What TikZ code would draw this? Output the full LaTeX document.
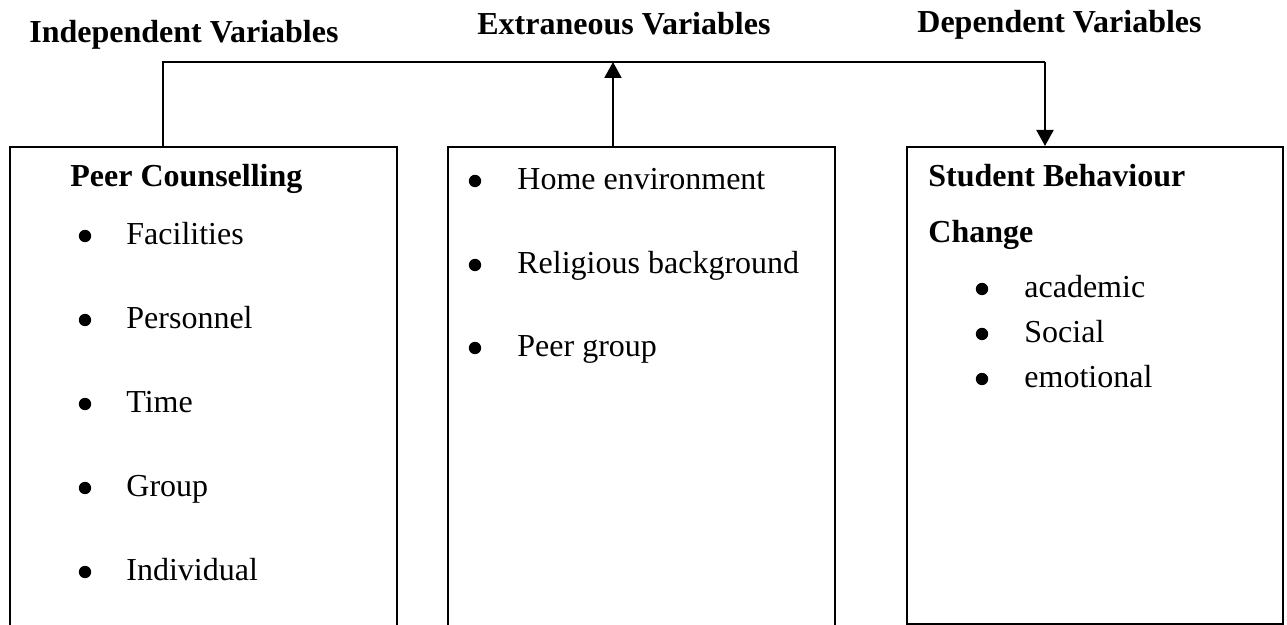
\documentclass[tikz,border=0pt]{standalone}
\usepackage{fontspec}
\setmainfont{Liberation Serif}
\usetikzlibrary{arrows.meta, positioning}

\begin{document}
\begin{tikzpicture}[
    x=0.5pt, y=-0.5pt,
    font=\fontsize{16}{19}\selectfont,
    box/.style={rectangle, draw, line width=1pt, inner sep=0pt},
    head/.style={font=\fontsize{16}{19}\selectfont\bfseries, inner sep=0pt, anchor=base west},
    item/.style={inner sep=0pt, anchor=base west},
    dot/.style={circle, fill, inner sep=0pt, minimum size=6.2pt},
    link/.style={line width=1pt},
    arrow/.style={line width=1pt, -{Triangle[length=8pt, width=8.5pt]}}
]
    \useasboundingbox (0,0) rectangle (1287,625);

    % Boxes (left and middle run past the page bottom)
    \node[box, minimum width=193.5pt, minimum height=246.5pt] (peer) at (203.5,393.5) {};
    \node[box, minimum width=193.5pt, minimum height=246.5pt] (extra) at (641.5,393.5) {};
    \node[box, minimum width=188pt, minimum height=238.5pt] (behav) at (1095,385.5) {};

    % Column headings
    \node[head] (indep) at (29,43) {Independent Variables};
    \node[head] (extvar) at (477,35) {Extraneous Variables};
    \node[head] (depvar) at (917,33) {Dependent Variables};

    % Left box
    \node[head] (pc) at (70,187) {Peer Counselling};
    \node[dot] (d1) at (85,236) {};
    \node[item] (fac) at (126,245) {Facilities};
    \node[dot] (d2) at (85,320) {};
    \node[item] (pers) at (126,329) {Personnel};
    \node[dot] (d3) at (85,404) {};
    \node[item] (time) at (126,413) {Time};
    \node[dot] (d4) at (85,488) {};
    \node[item] (grp) at (126,497) {Group};
    \node[dot] (d5) at (85,572) {};
    \node[item] (indiv) at (126,581) {Individual};

    % Middle box
    \node[dot] (e1) at (475,181) {};
    \node[item] (home) at (517,190) {Home environment};
    \node[dot] (e2) at (475,265) {};
    \node[item] (relig) at (517,274) {Religious background};
    \node[dot] (e3) at (475,348) {};
    \node[item] (pgrp) at (517,357) {Peer group};

    % Right box
    \node[head] (sb) at (928,187) {Student Behaviour};
    \node[head] (chg) at (928,243) {Change};
    \node[dot] (s1) at (982,289) {};
    \node[item] (acad) at (1024,298) {academic};
    \node[dot] (s2) at (982,334) {};
    \node[item] (soc) at (1024,343) {Social};
    \node[dot] (s3) at (982,379) {};
    \node[item] (emo) at (1024,388) {emotional};

    % Connections
    \coordinate (jl) at (163,62);
    \coordinate (jm) at (613,62);
    \coordinate (jr) at (1045,62);
    \draw[link] (jl |- peer.north) -- (jl) -- (jr);
    \draw[arrow] (jm |- extra.north) -- (jm);
    \draw[arrow] (jr) -- (jr |- behav.north);
\end{tikzpicture}
\end{document}
